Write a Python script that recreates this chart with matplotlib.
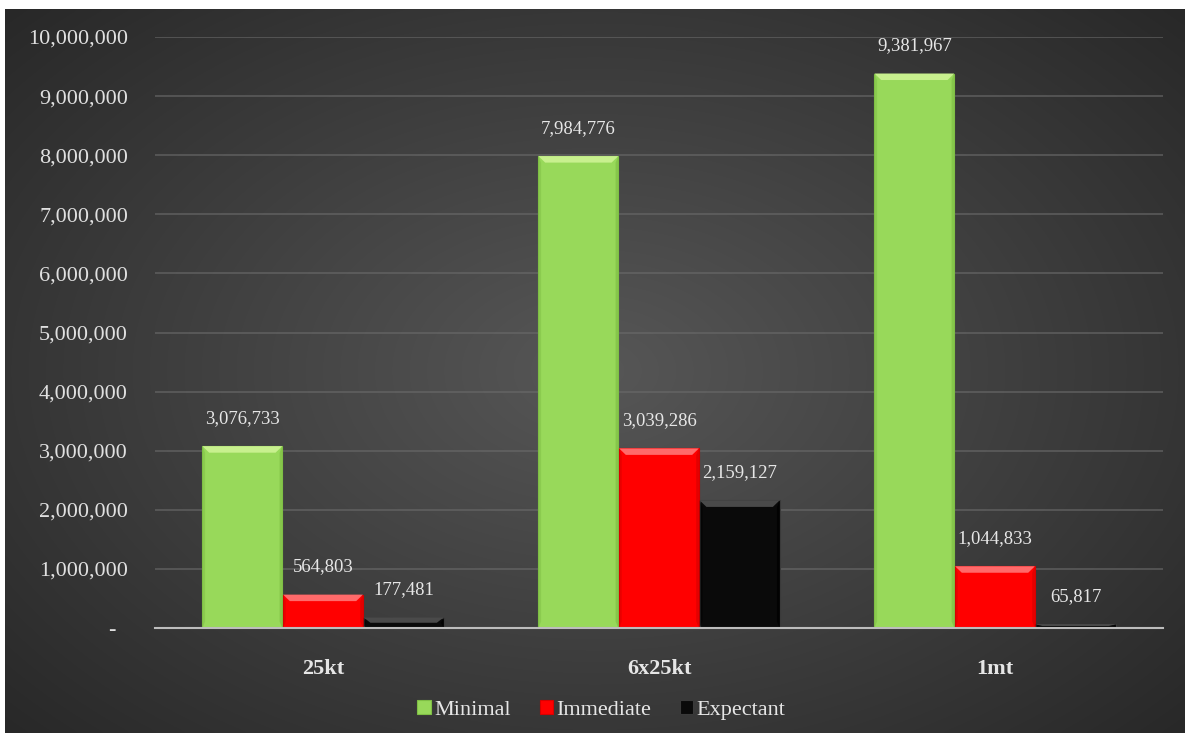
import numpy as np
import matplotlib.pyplot as plt
from matplotlib.patches import Polygon

categories = ['25kt', '6x25kt', '1mt']
series = ['Minimal', 'Immediate', 'Expectant']
minimal = [3076733, 7984776, 9381967]
immediate = [564803, 3039286, 1044833]
expectant = [177481, 2159127, 65817]
yticks = [0, 1000000, 2000000, 3000000, 4000000, 5000000,
          6000000, 7000000, 8000000, 9000000, 10000000]

face = ['#98d95a', '#ff0000', '#0a0a0a']
light = ['#c8f08e', '#ff6a6a', '#4a4a4a']
dark = ['#7fbf45', '#d80000', '#000000']
edge = ['#7fbf45', '#d80000', '#3a3a3a']

plt.rcParams['font.family'] = ['Liberation Serif', 'DejaVu Serif']

fig = plt.figure(figsize=(11.85, 7.33), dpi=100)
fig.patch.set_facecolor('white')

# dark radial gradient panel
bg = fig.add_axes([5 / 1185, 0, 1180 / 1185, 724 / 733])
yy, xx = np.mgrid[0:1:300j, 0:1:480j]
r = np.sqrt(((xx - 0.5) / 0.75) ** 2 + ((yy - 0.5) / 0.8) ** 2)
shade = np.clip(0.34 - 0.2 * r, 0.15, 0.34)
bg.imshow(np.dstack([shade] * 3), aspect='auto', extent=[0, 1, 0, 1],
          interpolation='bicubic')
bg.set_axis_off()

ax = fig.add_axes([155 / 1185, 1 - 628 / 733, 1008 / 1185, 591 / 733])
ax.patch.set_alpha(0)
ax.set_xlim(-0.5, 2.5)
ax.set_ylim(0, 10000000)

w = 0.24
x = np.arange(len(categories))
bh = 110000   # bevel height in data units
bw = 0.02     # bevel width in data units
for i, vals in enumerate([minimal, immediate, expectant]):
    xs = x + (i - 1) * w
    ax.bar(xs, vals, width=w * 0.99, color=face[i], edgecolor=edge[i],
           linewidth=0.8, zorder=3, label=series[i])
    for xc, v in zip(xs, vals):
        l, rr = xc - w * 0.495, xc + w * 0.495
        h = min(bh, v * 0.5)
        ax.add_patch(Polygon([[l, v], [rr, v], [rr - bw, v - h], [l + bw, v - h]],
                             closed=True, facecolor=light[i], edgecolor='none', zorder=4))
        ax.add_patch(Polygon([[l, 0], [l + bw * 0.4, h], [l + bw * 0.4, v - h], [l, v]],
                             closed=True, facecolor=dark[i], edgecolor='none', alpha=0.5, zorder=4))
        ax.add_patch(Polygon([[rr, 0], [rr - bw * 0.4, h], [rr - bw * 0.4, v - h], [rr, v]],
                             closed=True, facecolor=dark[i], edgecolor='none', alpha=0.7, zorder=4))
        ax.annotate(f'{v:,}', (xc, v), xytext=(0, 14), textcoords='offset points',
                    ha='center', va='bottom', color='#e6e6e6', fontsize=13.5, zorder=5)

ax.set_yticks(yticks)
ax.set_yticklabels([f'{t:,}' if t else '-  ' for t in yticks], color='#e0e0e0', fontsize=16)
ax.set_xticks(x)
ax.set_xticklabels(categories, color='#e6e6e6', fontsize=16, fontweight='bold')
ax.tick_params(axis='y', length=0, pad=19.5)
ax.tick_params(axis='x', length=0, pad=22)
ax.grid(axis='y', color='#6a6a6a', linewidth=1.2, alpha=0.7, zorder=0)
for s in ['top', 'right', 'left']:
    ax.spines[s].set_visible(False)
ax.spines['bottom'].set_color('#bdbdbd')
ax.spines['bottom'].set_linewidth(1.5)
ax.spines['bottom'].set_zorder(6)

leg = ax.legend(loc='upper center', bbox_to_anchor=(0.443, -0.088), ncol=3,
                frameon=False, fontsize=16, handlelength=0.6, handleheight=0.6,
                handletextpad=0.15, columnspacing=1.3)
for t in leg.get_texts():
    t.set_color('#e6e6e6')

fig.savefig('out.png', dpi=100, facecolor=fig.get_facecolor())
